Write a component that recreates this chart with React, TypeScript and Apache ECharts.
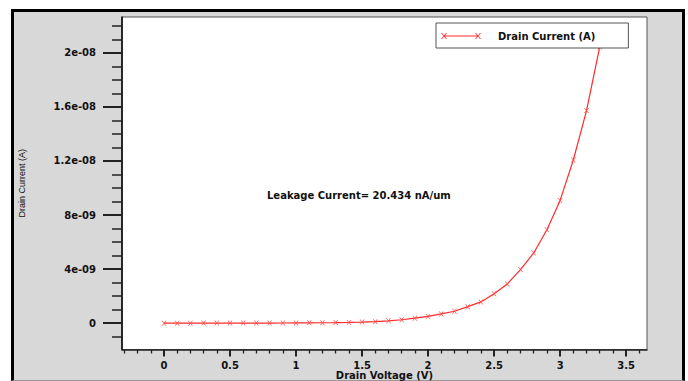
import { useEffect, useRef } from 'react';
import * as echarts from 'echarts';

const drainVoltage = [
  0, 0.1, 0.2, 0.3, 0.4, 0.5, 0.6, 0.7, 0.8, 0.9, 1.0, 1.1, 1.2, 1.3, 1.4, 1.5, 1.6,
  1.7, 1.8, 1.9, 2.0, 2.1, 2.2, 2.3, 2.4, 2.5, 2.6, 2.7, 2.8, 2.9, 3.0, 3.1, 3.2, 3.3,
];
const drainCurrent = [
  0, 1e-12, 1e-12, 2e-12, 2e-12, 3e-12, 4e-12, 6e-12, 8e-12, 1.1e-11, 1.5e-11, 2.1e-11,
  2.9e-11, 4.0e-11, 5.6e-11, 7.8e-11, 1.1e-10, 1.7e-10, 2.5e-10, 3.7e-10, 5.0e-10,
  6.8e-10, 8.8e-10, 1.22e-9, 1.57e-9, 2.18e-9, 2.9e-9, 3.96e-9, 5.19e-9, 6.91e-9,
  9.08e-9, 1.207e-8, 1.573e-8, 2.0434e-8,
];

const xMajorTicks = [0, 0.5, 1, 1.5, 2, 2.5, 3, 3.5];
const xMajorLabels = ['0', '0.5', '1', '1.5', '2', '2.5', '3', '3.5'];
const xMinorTicks = [
  -0.3, -0.2, -0.1, 0.1, 0.2, 0.3, 0.4, 0.6, 0.7, 0.8, 0.9, 1.1, 1.2, 1.3, 1.4, 1.6, 1.7,
  1.8, 1.9, 2.1, 2.2, 2.3, 2.4, 2.6, 2.7, 2.8, 2.9, 3.1, 3.2, 3.3, 3.4, 3.6,
];
const yMajorTicks = [0, 4e-9, 8e-9, 1.2e-8, 1.6e-8, 2e-8];
const yMajorLabels = ['0', '4e-09', '8e-09', '1.2e-08', '1.6e-08', '2e-08'];
const yMinorTicks = [
  -1e-9, 1e-9, 2e-9, 3e-9, 5e-9, 6e-9, 7e-9, 9e-9, 1e-8, 1.1e-8, 1.3e-8, 1.4e-8, 1.5e-8,
  1.7e-8, 1.8e-8, 1.9e-8, 2.1e-8, 2.2e-8,
];

const seriesName = 'Drain Current (A)';
const xAxisTitle = 'Drain Voltage (V)';
const yAxisTitle = 'Drain Current (A)';
const annotation = 'Leakage Current= 20.434 nA/um';

const X_MIN = -0.318;
const X_MAX = 3.658;
const Y_MIN = -1.95e-9;
const Y_MAX = 2.265e-8;

const RED = '#ff2a2a';
const FONT = 'DejaVu Sans';

const markerPath = 'path://M0,0 L1.2,0 L7,7 L5.8,7 Z M5.8,0 L7,0 L1.2,7 L0,7 Z';
const legendIcon =
  'path://M0,0.5 L1,0.5 L6,6.5 L5,6.5 Z M5,0.5 L6,0.5 L1,6.5 L0,6.5 Z M3,3 L37,3 L37,4 L3,4 Z M34,0.5 L35,0.5 L40,6.5 L39,6.5 Z M39,0.5 L40,0.5 L35,6.5 L34,6.5 Z';

function labelFor(values: number[], labels: string[], v: number) {
  for (let i = 0; i < values.length; i++) {
    if (Math.abs(values[i] - v) <= Math.abs(values[i]) * 1e-6 + 1e-15) return labels[i];
  }
  return '';
}

export default function App() {
  const ref = useRef<HTMLDivElement>(null);

  useEffect(() => {
    if (!ref.current) return;
    const chart = echarts.init(ref.current, undefined, { renderer: 'svg' });
    const tickColor = '#222';
    const labelStyle = {
      fontFamily: FONT,
      fontWeight: 'bold' as const,
      fontSize: 10,
      color: '#111',
    };
    chart.setOption({
      animation: false,
      backgroundColor: 'transparent',
      grid: {
        left: 122,
        top: 17,
        right: 41,
        bottom: 31.5,
        show: true,
        containLabel: false,
        outerBoundsMode: 'none',
        backgroundColor: '#ffffff',
        borderColor: '#555',
        borderWidth: 1,
      },
      legend: {
        left: 436,
        top: 23,
        padding: [8, 33, 7, 5],
        itemWidth: 40,
        itemHeight: 6,
        icon: legendIcon,
        backgroundColor: '#ffffff',
        borderColor: '#555',
        borderWidth: 1,
        itemStyle: { color: RED, borderWidth: 0 },
        textStyle: { ...labelStyle, padding: [0, 0, 0, 12] },
        data: [seriesName],
      },
      xAxis: [
        {
          type: 'value',
          min: X_MIN,
          max: X_MAX,
          name: xAxisTitle,
          nameLocation: 'middle',
          nameGap: 20.5,
          nameMoveOverlap: false,
          nameTextStyle: { ...labelStyle, lineHeight: 10 },
          axisLine: { show: true, onZero: false, lineStyle: { color: '#222', width: 1.5 } },
          axisTick: {
            show: true,
            length: 7,
            customValues: xMajorTicks,
            lineStyle: { color: tickColor, width: 2 },
          },
          axisLabel: {
            show: true,
            margin: 11,
            lineHeight: 9,
            customValues: xMajorTicks,
            formatter: (v: number) => labelFor(xMajorTicks, xMajorLabels, v),
            ...labelStyle,
          },
          splitLine: { show: false },
        },
        {
          type: 'value',
          min: X_MIN,
          max: X_MAX,
          position: 'bottom',
          axisLine: { show: false, onZero: false },
          axisTick: {
            show: true,
            length: 4,
            customValues: xMinorTicks,
            lineStyle: { color: tickColor, width: 1.3 },
          },
          axisLabel: { show: false },
          splitLine: { show: false },
        },
      ],
      yAxis: [
        {
          type: 'value',
          min: Y_MIN,
          max: Y_MAX,
          name: yAxisTitle,
          nameLocation: 'middle',
          nameGap: 96,
          nameRotate: 90,
          nameMoveOverlap: false,
          nameTextStyle: { fontFamily: 'Liberation Sans', fontSize: 9, color: '#111' },
          axisLine: { show: true, onZero: false, lineStyle: { color: '#000', width: 1.5 } },
          axisTick: {
            show: true,
            length: 19,
            customValues: yMajorTicks,
            lineStyle: { color: tickColor, width: 2 },
          },
          axisLabel: {
            show: true,
            margin: 26,
            customValues: yMajorTicks,
            formatter: (v: number) => labelFor(yMajorTicks, yMajorLabels, v),
            ...labelStyle,
          },
          splitLine: { show: false },
        },
        {
          type: 'value',
          min: Y_MIN,
          max: Y_MAX,
          position: 'left',
          axisLine: { show: false, onZero: false },
          axisTick: {
            show: true,
            length: 10,
            customValues: yMinorTicks,
            lineStyle: { color: tickColor, width: 1.5 },
          },
          axisLabel: { show: false },
          splitLine: { show: false },
        },
      ],
      graphic: [
        {
          type: 'text',
          x: 267,
          y: 195,
          style: {
            text: annotation,
            fontFamily: FONT,
            fontWeight: 'bold',
            fontSize: 10,
            fill: '#111',
            verticalAlign: 'middle',
          },
        },
      ],
      series: [
        {
          name: seriesName,
          type: 'line',
          xAxisIndex: 0,
          yAxisIndex: 0,
          data: drainVoltage.map((v, i) => [v, drainCurrent[i]]),
          symbol: markerPath,
          symbolSize: 5,
          showSymbol: true,
          lineStyle: { color: RED, width: 1.2 },
          itemStyle: { color: '#ff4d4d' },
        },
      ],
    });
    return () => chart.dispose();
  }, []);

  return (
    <>
      <div
        style={{
          position: 'absolute',
          left: 11,
          top: 9,
          width: 674,
          height: 372,
          boxSizing: 'border-box',
          background: '#d8d8d8',
          borderLeft: '3px solid #000',
          borderTop: '3px solid #000',
          borderRight: '3px solid #000',
          borderBottom: '1px solid #999',
        }}
      />
      <div
        ref={ref}
        style={{ position: 'absolute', left: 0, top: 0, width: 688, height: 381 }}
      />
    </>
  );
}
